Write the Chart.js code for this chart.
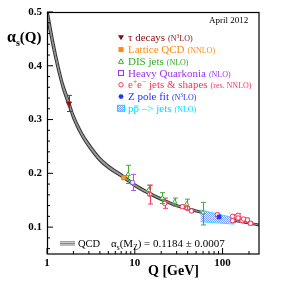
<!DOCTYPE html>
<html>
<head>
<meta charset="utf-8">
<script src="https://cdn.jsdelivr.net/npm/chart.js@4.4.1/dist/chart.umd.min.js"></script>
<style>
html, body { margin: 0; padding: 0; background: #fff; }
</style>
</head>
<body>
<canvas id="c" width="297" height="287"></canvas>
<script>
// running coupling band
var qcdQ   = [1, 1.2, 1.5, 1.777, 2, 2.5, 3, 4, 5, 7.5, 10, 15, 20, 30, 50, 70, 91.2, 120, 150, 200, 260];
var qcdMid = [0.500, 0.432, 0.365, 0.330, 0.305, 0.272, 0.252, 0.226, 0.212, 0.193, 0.178, 0.162, 0.152, 0.140, 0.130, 0.124, 0.1184, 0.1140, 0.1112, 0.1075, 0.1040];
var qcdHi  = [0.514, 0.443, 0.373, 0.337, 0.311, 0.277, 0.2565, 0.230, 0.2155, 0.196, 0.1808, 0.1645, 0.1543, 0.142, 0.1318, 0.1257, 0.1200, 0.1156, 0.1128, 0.1091, 0.1056];
var qcdLo  = [0.486, 0.421, 0.357, 0.323, 0.299, 0.267, 0.2475, 0.222, 0.2085, 0.190, 0.1752, 0.1595, 0.1497, 0.138, 0.1282, 0.1223, 0.1168, 0.1124, 0.1096, 0.1059, 0.1024];

// measurements
var tauQ = [1.777], tauA = [0.330], tauLo = [0.315], tauHi = [0.345];
var latQ = [7.5], latA = [0.192];
var disQ  = [8.4, 14.4, 20.6, 28.5, 39, 59.7];
var disA  = [0.198, 0.169, 0.154, 0.147, 0.143, 0.127];
var disLo = [0.181, 0.159, 0.144, 0.139, 0.133, 0.104];
var disHi = [0.215, 0.178, 0.164, 0.154, 0.152, 0.146];
var hqQ = [9.42], hqA = [0.183], hqLo = [0.168], hqHi = [0.198];
var eeQ  = [14.8, 21.9, 34.8, 39.7, 44.1, 87, 130, 130, 150, 150, 167, 173, 192, 208];
var eeA  = [0.161, 0.144, 0.138, 0.135, 0.130, 0.123, 0.120, 0.112, 0.122, 0.117, 0.112, 0.115, 0.1135, 0.107];
var eeLo = [0.143, 0.135, 0.135, 0.132, 0.127, 0.120, 0.117, 0.109, 0.119, 0.114, 0.109, 0.112, 0.1105, 0.104];
var eeHi = [0.178, 0.154, 0.141, 0.138, 0.133, 0.126, 0.123, 0.115, 0.125, 0.120, 0.115, 0.118, 0.1165, 0.110];
var zQ = [91.2], zA = [0.119];
var ppQ = [56, 137], ppHi = [0.132, 0.117], ppLo = [0.110, 0.1056];

var xTicks = [1, 10, 100];
var xMinor = [2, 3, 4, 5, 6, 7, 8, 9, 20, 30, 40, 50, 60, 70, 80, 90, 200];
var yTicks = [0.1, 0.2, 0.3, 0.4, 0.5];
var yMinor = [0.06, 0.08, 0.12, 0.14, 0.16, 0.18, 0.22, 0.24, 0.26, 0.28, 0.32, 0.34, 0.36, 0.38, 0.42, 0.44, 0.46, 0.48];

var legendMain  = ['τ decays', 'Lattice QCD', 'DIS jets', 'Heavy Quarkonia', 'e^{+}e^{−} jets & shapes', 'Z pole fit', 'p~{p} –> jets'];
var legendOrder = ['(N^{3}LO)', '(NNLO)', '(NLO)', '(NLO)', '(res. NNLO)', '(N^{3}LO)', '(NLO)'];
var legendColor = ['#8b0a0a', '#ff8a10', '#33aa22', '#9933ee', '#ff3355', '#2233ff', '#00ddff'];

var SERIF = '"Liberation Serif", "Times New Roman", serif';

function pts(q, a, lo, hi) {
  return q.map(function (v, i) {
    var p = { x: v, y: a[i] };
    if (lo) { p.lo = lo[i]; p.hi = hi[i]; }
    return p;
  });
}

var ctx = document.getElementById('c').getContext('2d');

function hatch() {
  var c = document.createElement('canvas');
  c.width = 2; c.height = 2;
  var g = c.getContext('2d');
  g.fillStyle = '#e2f6ff'; g.fillRect(0, 0, 2, 2);
  g.fillStyle = '#7f9cff'; g.fillRect(0, 0, 1, 1); g.fillRect(1, 1, 1, 1);
  return ctx.createPattern(c, 'repeat');
}
var ppFill = hatch();

var errorBars = {
  id: 'errorBars',
  beforeDatasetDraw: function (chart, args) {
    var ds = chart.data.datasets[args.index];
    if (!ds.errors) return;
    var c = chart.ctx, xs = chart.scales.x, ys = chart.scales.y;
    c.save();
    c.strokeStyle = ds.borderColor;
    c.lineWidth = 1;
    ds.data.forEach(function (p) {
      if (p.lo === undefined) return;
      var px = Math.round(xs.getPixelForValue(p.x)) + 0.5;
      var t = ys.getPixelForValue(p.hi), b = ys.getPixelForValue(p.lo);
      c.beginPath();
      c.moveTo(px, t); c.lineTo(px, b);
      c.moveTo(px - 2.5, t); c.lineTo(px + 2.5, t);
      c.moveTo(px - 2.5, b); c.lineTo(px + 2.5, b);
      c.stroke();
    });
    c.restore();
  }
};

function rich(c, x, y, str, size, bold) {
  var parts = str.split(/(\^\{[^}]*\}|~\{[^}]*\})/);
  var w = bold ? 'bold ' : '';
  parts.forEach(function (p) {
    if (!p) return;
    var t;
    if (p[0] === '^') {
      t = p.slice(2, -1);
      c.font = w + (size * 0.68) + 'px ' + SERIF;
      c.fillText(t, x, y - size * 0.42);
      x += c.measureText(t).width;
    } else if (p[0] === '~') {
      t = p.slice(2, -1);
      c.font = w + size + 'px ' + SERIF;
      c.fillText(t, x, y);
      var tw = c.measureText(t).width;
      c.fillRect(x + 0.5, y - size * 0.56, tw - 1, 0.8);
      x += tw;
    } else {
      c.font = w + size + 'px ' + SERIF;
      c.fillText(p, x, y);
      x += c.measureText(p).width;
    }
  });
  return x;
}

function symbol(c, i, x, y) {
  var col = legendColor[i];
  c.save();
  c.lineWidth = 1;
  c.strokeStyle = col;
  c.fillStyle = col;
  c.beginPath();
  if (i === 0) {
    c.moveTo(x - 3, y - 2.5); c.lineTo(x + 3, y - 2.5); c.lineTo(x, y + 2.5); c.closePath(); c.fill();
  } else if (i === 1) {
    c.fillRect(x - 2.5, y - 2.5, 5, 5);
  } else if (i === 2) {
    c.moveTo(x, y - 2.5); c.lineTo(x + 2.5, y + 2); c.lineTo(x - 2.5, y + 2); c.closePath(); c.stroke();
  } else if (i === 3) {
    c.strokeRect(x - 2.5, y - 2.5, 5, 5);
  } else if (i === 4) {
    c.arc(x, y, 2.2, 0, Math.PI * 2); c.stroke();
  } else if (i === 5) {
    c.arc(x, y, 2.4, 0, Math.PI * 2); c.fill();
  } else {
    c.fillStyle = ppFill;
    c.fillRect(x - 3.5, y - 3, 7, 6);
    c.strokeRect(x - 3.5, y - 3, 7, 6);
  }
  c.restore();
}

var frame = {
  id: 'frame',
  afterDraw: function (chart) {
    var c = chart.ctx, a = chart.chartArea, xs = chart.scales.x, ys = chart.scales.y;
    c.save();
    c.strokeStyle = '#000';
    c.lineWidth = 1.2;
    c.strokeRect(a.left + 0.5, a.top + 0.5, a.right - a.left - 0.5, a.bottom - a.top - 0.5);
    c.lineWidth = 1;
    c.beginPath();
    xTicks.forEach(function (v) { var p = xs.getPixelForValue(v); c.moveTo(p, a.bottom); c.lineTo(p, a.bottom - 6); });
    xMinor.forEach(function (v) { var p = xs.getPixelForValue(v); c.moveTo(p, a.bottom); c.lineTo(p, a.bottom - 3); });
    yTicks.forEach(function (v) { var p = ys.getPixelForValue(v); c.moveTo(a.left, p); c.lineTo(a.left + 6, p); });
    yMinor.forEach(function (v) { var p = ys.getPixelForValue(v); c.moveTo(a.left, p); c.lineTo(a.left + 3, p); });
    c.stroke();

    // axis titles
    c.fillStyle = '#000';
    c.textBaseline = 'alphabetic';
    c.font = 'bold 16px ' + SERIF;
    c.fillText('α', 7, 42);
    var ax = 7 + c.measureText('α').width;
    c.font = 'bold 10px ' + SERIF;
    c.fillText('s', ax, 46);
    ax += c.measureText('s').width;
    c.font = 'bold 15px ' + SERIF;
    c.fillText('(Q)', ax, 42);
    c.font = 'bold 14px ' + SERIF;
    c.fillText('Q [GeV]', 148, 275);

    c.font = '9px ' + SERIF;
    c.fillText('April 2012', 209, 23);

    // legend
    for (var i = 0; i < legendMain.length; i++) {
      var ly = 37.8 + i * 11.75;
      symbol(c, i, 121, ly);
      c.fillStyle = legendColor[i];
      var ex = rich(c, 128, ly + 3.5, legendMain[i], 11, false);
      rich(c, ex + 3, ly + 3.5, legendOrder[i], 8, false);
    }

    // QCD band key
    c.strokeStyle = '#555';
    c.lineWidth = 0.8;
    c.beginPath();
    [241.8, 243.4, 245].forEach(function (yy) { c.moveTo(60, yy); c.lineTo(75, yy); });
    c.stroke();
    c.fillStyle = '#000';
    c.font = '10.5px ' + SERIF;
    c.fillText('QCD', 78, 247);
    var bx = 111;
    c.font = '11px ' + SERIF;
    c.fillText('α', bx, 247); bx += c.measureText('α').width;
    c.font = '7.5px ' + SERIF;
    c.fillText('s', bx, 249.5); bx += c.measureText('s').width;
    c.font = '11px ' + SERIF;
    c.fillText('(M', bx, 247); bx += c.measureText('(M').width;
    c.font = '7.5px ' + SERIF;
    c.fillText('Z', bx, 249.5); bx += c.measureText('Z').width;
    c.font = '11px ' + SERIF;
    c.fillText(') = 0.1184 ± 0.0007', bx, 247);
    c.restore();
  }
};

var chart = new Chart(ctx, {
  type: 'scatter',
  data: {
    datasets: [
      { label: 'Z pole fit', data: pts(zQ, zA), pointStyle: 'rect', pointRadius: 2.6, backgroundColor: '#2233ff', borderColor: '#2233ff', borderWidth: 1 },
      { label: 'tau decays', data: pts(tauQ, tauA, tauLo, tauHi), errors: true, pointStyle: 'triangle', rotation: 180, pointRadius: 3, backgroundColor: '#8b0a0a', borderColor: '#b01818', borderWidth: 1 },
      { label: 'Lattice QCD', data: pts(latQ, latA), pointStyle: 'rect', pointRadius: 3, backgroundColor: '#ff9a30', borderColor: '#f07800', borderWidth: 1 },
      { label: 'Heavy Quarkonia', data: pts(hqQ, hqA, hqLo, hqHi), errors: true, pointStyle: 'rect', pointRadius: 2.6, backgroundColor: '#ffffff', borderColor: '#aa55ee', borderWidth: 1 },
      { label: 'DIS jets', data: pts(disQ, disA, disLo, disHi), errors: true, pointStyle: 'triangle', pointRadius: 2.6, backgroundColor: '#ffffff', borderColor: '#44aa33', borderWidth: 1 },
      { label: 'e+e- jets & shapes', data: pts(eeQ, eeA, eeLo, eeHi), errors: true, pointStyle: 'circle', pointRadius: 2.2, backgroundColor: '#ffffff', borderColor: '#ff3355', borderWidth: 1 },
      { label: 'pp jets hi', type: 'line', data: pts(ppQ, ppHi), showLine: true, pointRadius: 0, borderColor: '#33ddff', borderWidth: 1, fill: false },
      { label: 'pp jets lo', type: 'line', data: pts(ppQ, ppLo), showLine: true, pointRadius: 0, borderColor: '#33ddff', borderWidth: 1, fill: '-1', backgroundColor: ppFill },
      { label: 'QCD', type: 'line', data: pts(qcdQ, qcdMid), showLine: true, pointRadius: 0, borderColor: '#8a8a8a', borderWidth: 0.9, cubicInterpolationMode: 'monotone', fill: false },
      { label: 'QCD hi', type: 'line', data: pts(qcdQ, qcdHi), showLine: true, pointRadius: 0, borderColor: '#3c3c3c', borderWidth: 1.2, cubicInterpolationMode: 'monotone', fill: false },
      { label: 'QCD lo', type: 'line', data: pts(qcdQ, qcdLo), showLine: true, pointRadius: 0, borderColor: '#3c3c3c', borderWidth: 1.2, cubicInterpolationMode: 'monotone', fill: '-1', backgroundColor: '#b4b4b4' }
    ]
  },
  options: {
    responsive: false,
    animation: false,
    layout: { padding: { top: 12, right: 38, left: 0, bottom: 0 } },
    plugins: { legend: { display: false }, tooltip: { enabled: false } },
    scales: {
      x: {
        type: 'logarithmic', min: 1, max: 260,
        afterBuildTicks: function (s) { s.ticks = xTicks.map(function (v) { return { value: v }; }); },
        afterFit: function (s) { s.height = 33; },
        grid: { display: false, drawTicks: false },
        border: { display: false },
        ticks: { padding: 3, autoSkip: false, maxRotation: 0, color: '#000', font: { family: SERIF, weight: 'bold', size: 11 },
          callback: function (v) { return String(v); } }
      },
      y: {
        type: 'linear', min: 0.05, max: 0.5,
        afterBuildTicks: function (s) { s.ticks = yTicks.map(function (v) { return { value: v }; }); },
        afterFit: function (s) { s.width = 47; },
        grid: { display: false, drawTicks: false },
        border: { display: false },
        ticks: { padding: 5, color: '#000', font: { family: SERIF, weight: 'bold', size: 11 },
          callback: function (v) { return v.toFixed(1); } }
      }
    }
  },
  plugins: [errorBars, frame]
});
</script>
</body>
</html>
